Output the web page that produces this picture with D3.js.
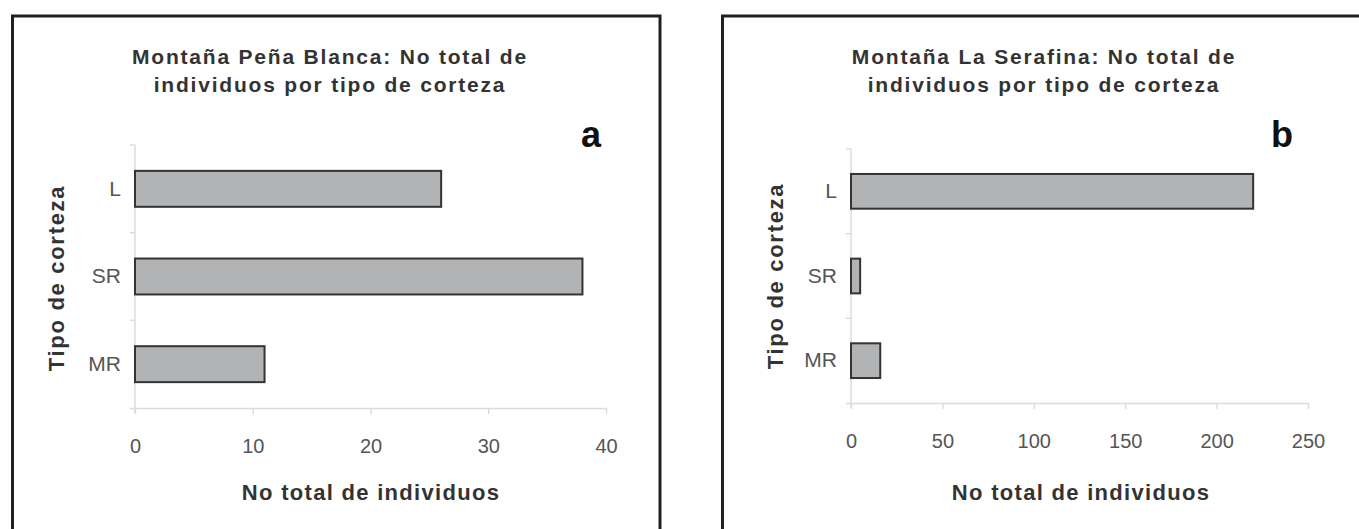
<!DOCTYPE html>
<html>
<head>
<meta charset="utf-8">
<script src="https://cdn.jsdelivr.net/npm/d3@7"></script>
<style>
  html, body { margin: 0; padding: 0; background: #fff; }
  svg { display: block; }
  text { font-family: "Liberation Sans", Arial, sans-serif; }
</style>
</head>
<body>
<svg id="chart" width="1359" height="529"></svg>
<script>
// ---- data ----
const categories = ["L", "SR", "MR"];
const valuesPenaBlanca = [26, 38, 11];
const valuesSerafina = [220, 5, 16];
const ticksPenaBlanca = [0, 10, 20, 30, 40];
const ticksSerafina = [0, 50, 100, 150, 200, 250];
const titlePenaBlanca = ["Montaña Peña Blanca: No total de", "individuos por tipo de corteza"];
const titleSerafina = ["Montaña La Serafina: No total de", "individuos por tipo de corteza"];
const panelLetters = ["a", "b"];
const xAxisTitle = "No total de individuos";
const yAxisTitle = "Tipo de corteza";

const svg = d3.select("#chart");

function drawPanel(cfg) {
  const g = svg.append("g");
  // frame
  g.append("rect")
    .attr("x", cfg.frame[0]).attr("y", cfg.frame[1])
    .attr("width", cfg.frame[2]).attr("height", cfg.frame[3])
    .attr("fill", "none").attr("stroke", "#231f20").attr("stroke-width", 3);

  const x = d3.scaleLinear().domain([0, cfg.ticks[cfg.ticks.length - 1]]).range(cfg.xRange);
  const y = d3.scaleBand().domain(categories).range(cfg.yRange).paddingInner(0.59).paddingOuter(0.295);

  // y axis line + boundary ticks
  g.append("line").attr("x1", x(0)).attr("x2", x(0))
    .attr("y1", cfg.yRange[0]).attr("y2", cfg.yRange[1] + 5)
    .attr("stroke", "#dcdcdc").attr("stroke-width", 1.5);
  const bounds = [cfg.yRange[0]].concat(categories.slice(1).map(c => y(c) - y.step() * y.paddingInner() / 2));
  g.selectAll(".bt").data(bounds).enter().append("line")
    .attr("x1", x(0) - 5).attr("x2", x(0))
    .attr("y1", d => d).attr("y2", d => d)
    .attr("stroke", "#dcdcdc").attr("stroke-width", 1.5);

  // x axis
  const xa = g.append("g").attr("transform", `translate(0,${cfg.yRange[1]})`)
    .call(d3.axisBottom(x).tickValues(cfg.ticks).tickSize(6).tickSizeOuter(0).tickPadding(25));
  xa.select(".domain").attr("stroke", "#dcdcdc").attr("stroke-width", 1.5)
    .attr("d", `M${x(0) - 5},0.5H${cfg.xRange[1]}`);
  xa.selectAll(".tick line").attr("stroke", "#dcdcdc").attr("stroke-width", 1.5);
  xa.selectAll(".tick text").attr("fill", "#555").attr("font-size", 20)
    .style("font-family", "'Liberation Sans', Arial, sans-serif");

  // category labels
  const ya = g.append("g").attr("transform", `translate(${x(0)},0)`)
    .call(d3.axisLeft(y).tickSize(0).tickPadding(14));
  ya.select(".domain").remove();
  ya.selectAll(".tick text").attr("fill", "#555").attr("font-size", 21)
    .style("font-family", "'Liberation Sans', Arial, sans-serif");

  // bars
  g.selectAll(".bar").data(cfg.values).enter().append("rect")
    .attr("x", x(0))
    .attr("y", (d, i) => y(categories[i]))
    .attr("width", d => x(d) - x(0))
    .attr("height", y.bandwidth())
    .attr("fill", "#b2b3b5").attr("stroke", "#333").attr("stroke-width", 2);

  // title
  const t = g.append("text").attr("text-anchor", "middle")
    .attr("font-weight", "bold").attr("font-size", 21).attr("fill", "#333")
    .style("letter-spacing", "1.8px");
  cfg.title.forEach((line, i) => {
    t.append("tspan").attr("x", cfg.titleX).attr("y", 64 + i * 28).text(line);
  });

  // panel letter
  g.append("text").attr("x", cfg.letterX).attr("y", 147)
    .attr("font-weight", "bold").attr("font-size", 36).attr("fill", "#111")
    .attr("text-anchor", "middle").text(cfg.letter);

  // axis titles
  g.append("text").attr("x", cfg.xTitleX).attr("y", 500).attr("text-anchor", "middle")
    .attr("font-weight", "bold").attr("font-size", 22).attr("fill", "#333")
    .style("letter-spacing", "1.3px").text(xAxisTitle);
  g.append("text").attr("transform", `translate(${cfg.yTitleX},${cfg.yTitleY}) rotate(-90)`)
    .attr("text-anchor", "middle")
    .attr("font-weight", "bold").attr("font-size", 22).attr("fill", "#333")
    .style("letter-spacing", "1.7px").text(yAxisTitle);
}

drawPanel({
  frame: [12.5, 16, 647.5, 600],
  xRange: [135, 606], yRange: [145, 408],
  values: valuesPenaBlanca, ticks: ticksPenaBlanca, title: titlePenaBlanca,
  titleX: 330, letter: panelLetters[0], letterX: 591,
  xTitleX: 371, yTitleX: 64, yTitleY: 278
});
drawPanel({
  frame: [722.5, 16, 700, 600],
  xRange: [851, 1308], yRange: [149, 403],
  values: valuesSerafina, ticks: ticksSerafina, title: titleSerafina,
  titleX: 1044, letter: panelLetters[1], letterX: 1282,
  xTitleX: 1081, yTitleX: 783, yTitleY: 276
});
</script>
</body>
</html>
